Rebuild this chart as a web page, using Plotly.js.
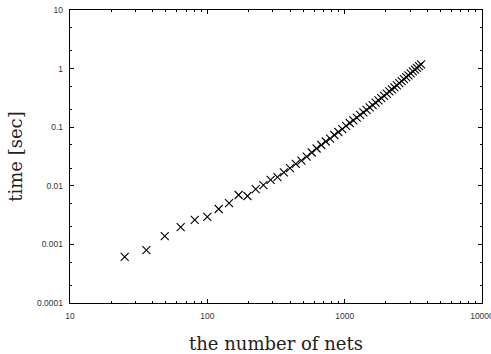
<!DOCTYPE html>
<html>
<head>
<meta charset="utf-8">
<script src="https://cdn.plot.ly/plotly-3.0.1.min.js"></script>
<style>
html,body{margin:0;padding:0;background:#fff;}
#chart{width:491px;height:354px;}
</style>
</head>
<body>
<div id="chart"></div>
<script>
// number of nets (x) and run time in seconds (y)
const nets = [25, 36, 49, 64, 81, 100, 121, 144, 169, 196, 225, 256, 289, 324, 361, 400,
  441, 484, 529, 576, 625, 676, 729, 784, 841, 900, 961, 1024, 1089, 1156, 1225, 1296,
  1369, 1444, 1521, 1600, 1681, 1764, 1849, 1936, 2025, 2116, 2209, 2304, 2401, 2500,
  2601, 2704, 2809, 2916, 3025, 3136, 3249, 3364, 3481, 3600];
const timeSec = [0.00061, 0.00080, 0.00139, 0.00198, 0.00261, 0.00294, 0.00402, 0.00508,
  0.00697, 0.00670, 0.00881, 0.0103, 0.0126, 0.0141, 0.0169, 0.0201,
  0.0236, 0.0270, 0.0316, 0.0370, 0.0433, 0.0497, 0.0570, 0.0641, 0.0736, 0.0828,
  0.0931, 0.105, 0.118, 0.131, 0.146, 0.162, 0.179, 0.197, 0.218, 0.239,
  0.263, 0.286, 0.314, 0.342, 0.373, 0.407, 0.442, 0.480, 0.519, 0.564,
  0.610, 0.659, 0.713, 0.769, 0.828, 0.893, 0.957, 1.03, 1.10, 1.18];
const xTickVals = [10, 100, 1000, 10000];
const xTickText = ["10", "100", "1000", "10000"];
const yTickVals = [0.0001, 0.001, 0.01, 0.1, 1, 10];
const yTickText = ["0.0001", "0.001", "0.01", "0.1", "1", "10"];

const trace = {
  x: nets, y: timeSec, type: 'scatter', mode: 'markers',
  marker: {symbol: 'x-thin', size: 8, color: '#000', line: {color: '#000', width: 1.1}},
  showlegend: false, hoverinfo: 'skip', cliponaxis: false
};

const tickFont = {family: 'Liberation Sans, Arial, sans-serif', size: 8.5, color: '#333'};
const titleFont = {family: 'DejaVu Serif, serif', size: 18, color: '#222'};

const layout = {
  width: 491, height: 354,
  margin: {l: 70, r: 9, t: 10, b: 51, pad: 0},
  paper_bgcolor: '#fff', plot_bgcolor: '#fff',
  xaxis: {
    type: 'log', range: [1, 4.0002],
    tickmode: 'array', tickvals: xTickVals, ticktext: xTickText,
    ticks: 'inside', ticklen: 4, tickcolor: '#000', tickwidth: 1,
    ticklabelstandoff: 4, ticklabeloverflow: 'allow',
    minor: {ticks: 'inside', ticklen: 2, tickcolor: '#000', dtick: 'D1', showgrid: false},
    showgrid: false, zeroline: false,
    showline: true, linecolor: '#000', linewidth: 1.3, mirror: 'ticks',
    tickfont: tickFont, automargin: false,
    title: {text: 'the number of nets', font: titleFont, standoff: 23}
  },
  yaxis: {
    type: 'log', range: [-4, 1],
    tickmode: 'array', tickvals: yTickVals, ticktext: yTickText,
    ticks: 'inside', ticklen: 4, tickcolor: '#000', tickwidth: 1,
    ticklabelstandoff: 4, ticklabeloverflow: 'allow',
    minor: {ticks: 'inside', ticklen: 2, tickcolor: '#000', dtick: 'D2', showgrid: false},
    showgrid: false, zeroline: false,
    showline: true, linecolor: '#000', linewidth: 1.3, mirror: 'ticks',
    tickfont: tickFont, automargin: false,
    title: {text: 'time [sec]', font: titleFont, standoff: 9}
  }
};

Plotly.newPlot('chart', [trace], layout, {staticPlot: true, displayModeBar: false});
</script>
</body>
</html>
